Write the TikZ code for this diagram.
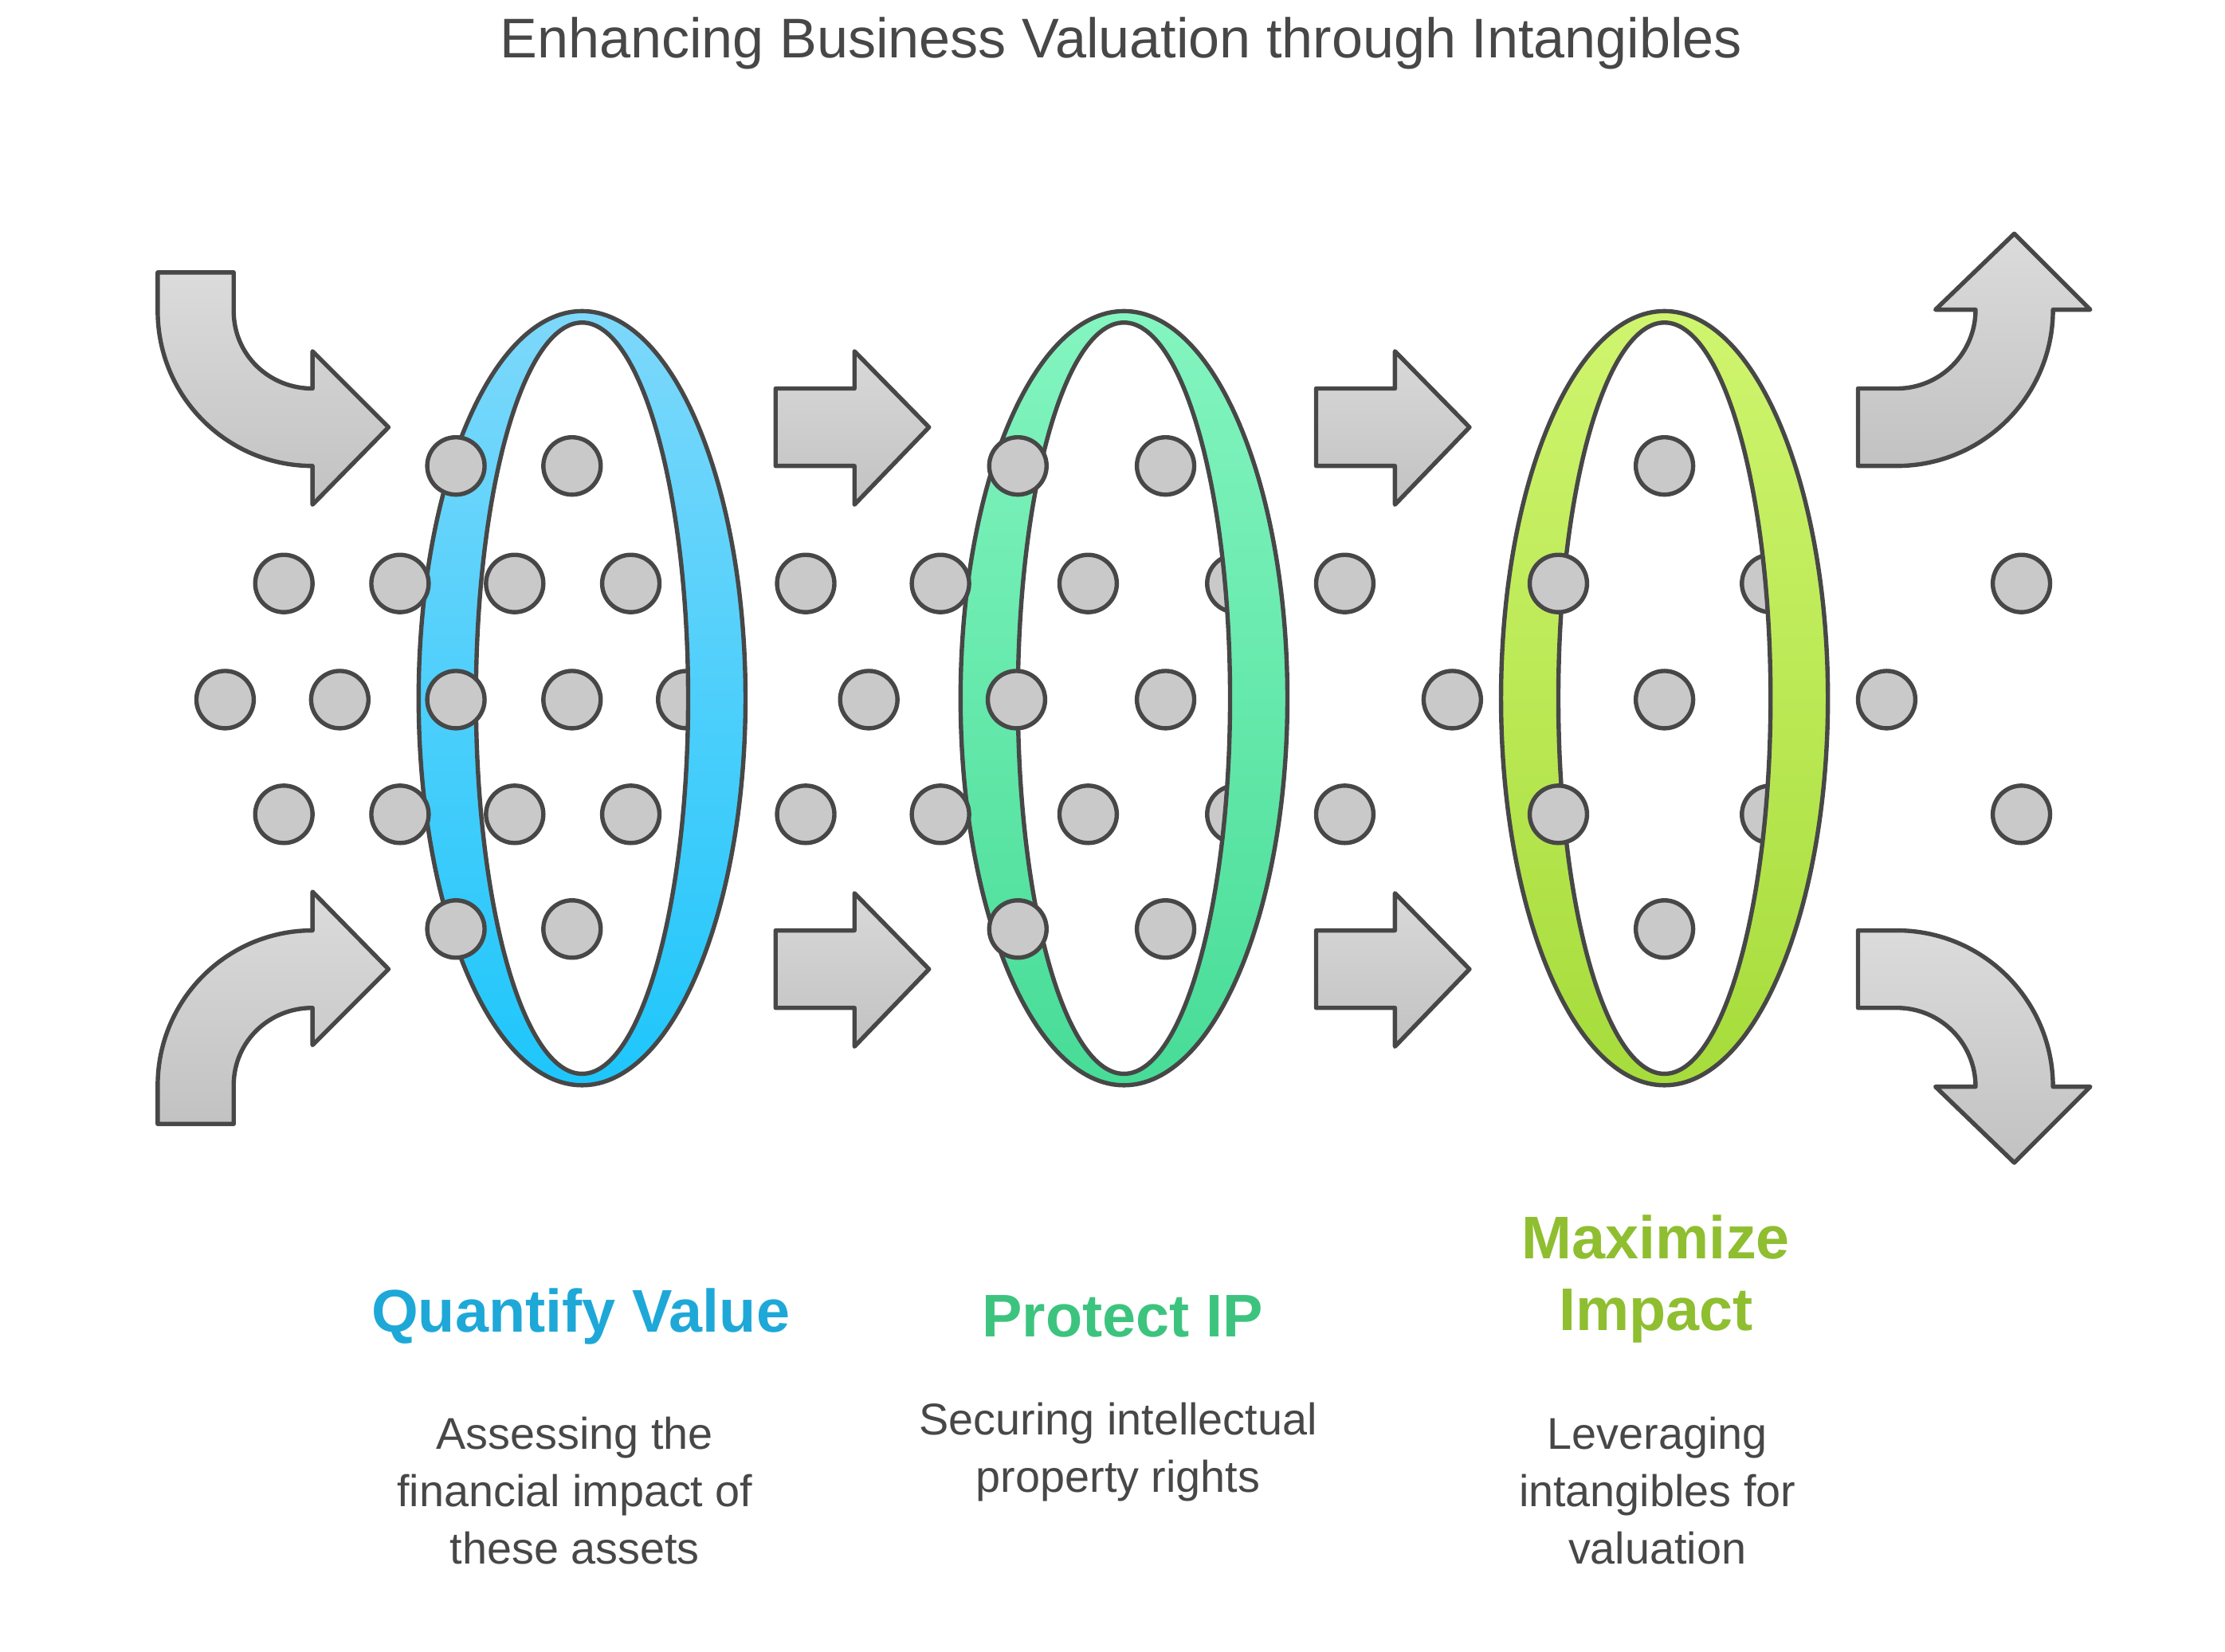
\documentclass[tikz,border=0pt]{standalone}
\usepackage{fontspec}
\setmainfont{Liberation Sans}
\begin{document}
\begin{tikzpicture}[x=0.5pt,y=-0.5pt,
  ln/.style={draw=black!72,line width=1.5pt,line join=round},
  dot/.style={ln,fill=black!21},
  arr/.style={ln,top color=black!14,bottom color=black!24},
  sarr/.style={ln,top color=black!15,bottom color=black!24},
  lbl/.style={font=\bfseries\fontsize{21pt}{25pt}\selectfont,align=center},
  desc/.style={font=\fontsize{15.5pt}{20pt}\selectfont,text=black!72,align=center}]
\useasboundingbox (0,0) rectangle (1552,1152);
\definecolor{qb}{HTML}{1EA8D8}\definecolor{pg}{HTML}{3CC47F}\definecolor{ml}{HTML}{8FBE30}
\node[font=\fontsize{19.5pt}{23pt}\selectfont,text=black!72] (title) at (782,30) {Enhancing Business Valuation through Intangibles};
% curved arrows
\path[arr] (110,190) -- (110,217) .. controls (110,276.6) and (158.4,325) .. (218,325) -- (218,352) -- (271,298) -- (218,245) -- (218,271) .. controls (187.6,271) and (163,247.4) .. (163,217) -- (163,190) -- cycle;
\path[arr] (110,784) -- (110,757) .. controls (110,697.4) and (158.4,649) .. (218,649) -- (218,622) -- (271,676) -- (218,729) -- (218,703) .. controls (187.6,703) and (163,726.6) .. (163,757) -- (163,784) -- cycle;
\path[arr] (1296,325) -- (1323,325) .. controls (1383.2,325) and (1432,276.2) .. (1432,216) -- (1458,216) -- (1405,163) -- (1350,216) -- (1378,216) .. controls (1378,246.4) and (1353.4,271) .. (1323,271) -- (1296,271) -- cycle;
\path[arr] (1296,649) -- (1323,649) .. controls (1383.2,649) and (1432,697.8) .. (1432,758) -- (1458,758) -- (1405,811) -- (1350,758) -- (1378,758) .. controls (1378,727.6) and (1353.4,703) .. (1323,703) -- (1296,703) -- cycle;
% straight arrows
\foreach \dx/\dy in {0/0,0/378,377/0,377/378}{
\path[sarr,shift={(\dx,\dy)}] (541,271) -- (596,271) -- (596,245) -- (648,298) -- (596,352) -- (596,325) -- (541,325) -- cycle;}
% hidden circles
\foreach \x/\y in {479/488,862/407,862/568,1235/407,1235/568}
  \path[dot] (\x,\y) circle[radius=20];
% rings
\path[ln,top color={rgb,255:red,125;green,216;blue,251},bottom color={rgb,255:red,30;green,198;blue,251},even odd rule] (406,487) ellipse (114 and 270) (406,487) ellipse (74 and 262);
\path[ln,top color={rgb,255:red,132;green,245;blue,192},bottom color={rgb,255:red,71;green,220;blue,151},even odd rule] (784,487) ellipse (114 and 270) (784,487) ellipse (74 and 262);
\path[ln,top color={rgb,255:red,207;green,245;blue,110},bottom color={rgb,255:red,166;green,220;blue,59},even odd rule] (1161,487) ellipse (114 and 270) (1161,487) ellipse (74 and 262);
% circles
\foreach \x in {318,399,710,813,1161}{\path[dot] (\x,325) circle[radius=20]; \path[dot] (\x,648) circle[radius=20];}
\foreach \x in {198,279,359,440,562,656,759,938,1087,1410}{\path[dot] (\x,407) circle[radius=20]; \path[dot] (\x,568) circle[radius=20];}
\foreach \x in {157,237,318,399,606,709,813,1013,1161,1316}\path[dot] (\x,488) circle[radius=20];
% labels
\node[lbl,text=qb] (l1) at (405,918) {Quantify Value};
\node[lbl,text=pg] (l2) at (783,918) {Protect IP};
\node[lbl,text=ml] (l3) at (1155,892) {Maximize\\Impact};
\node[desc] (d1) at (401,1040) {Assessing the\\financial impact of\\these assets};
\node[desc] (d2) at (780,1013) {Securing intellectual\\property rights};
\node[desc] (d3) at (1156,1040) {Leveraging\\intangibles for\\valuation};
\end{tikzpicture}
\end{document}
